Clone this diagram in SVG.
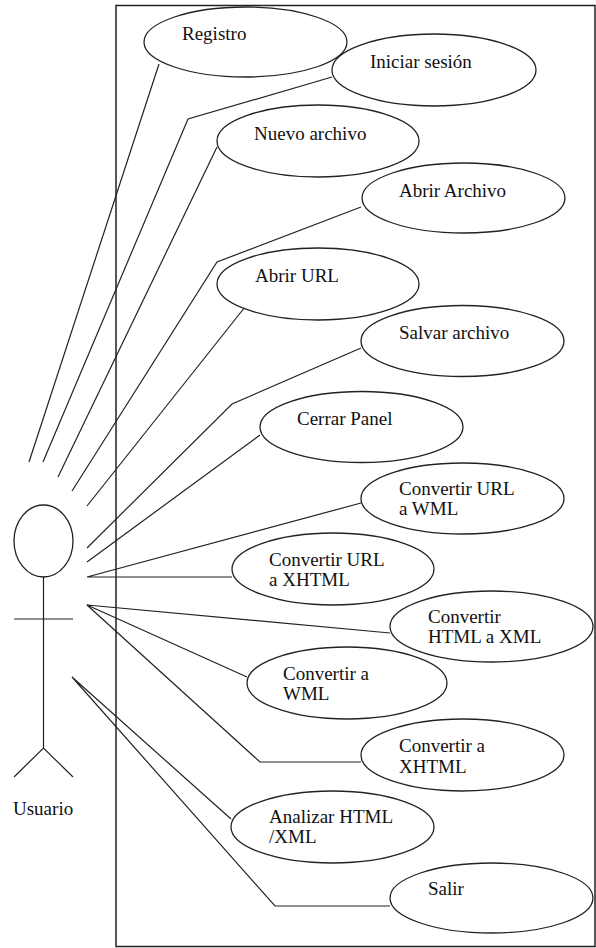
<svg xmlns="http://www.w3.org/2000/svg" width="596" height="948" viewBox="0 0 596 948">
<style>
.uc{fill:#fff;stroke:#222;stroke-width:1.3}
.ln{fill:none;stroke:#222;stroke-width:1.2}
</style>
<rect x="0" y="0" width="596" height="948" fill="#fff"/>
<rect id="system" x="116" y="5.5" width="479" height="941" fill="none" stroke="#222" stroke-width="1.5"/>
<g id="connectors">
<polyline class="ln" points="159,64 29,462"/>
<polyline class="ln" points="332,77 188,119 43,462"/>
<polyline class="ln" points="217,147 58,477"/>
<polyline class="ln" points="361,207 217,262 72,491"/>
<polyline class="ln" points="245,307 87,506"/>
<polyline class="ln" points="361,348 232,404 87,548"/>
<polyline class="ln" points="260,435 87,562"/>
<polyline class="ln" points="361,503 87,577 232,577"/>
<polyline class="ln" points="390,633 87,605 247,677"/>
<polyline class="ln" points="87,605 260,762 361,762"/>
<polyline class="ln" points="231,819 72,677 275,906 390,906"/>
</g>
<g font-family="Liberation Serif, Times New Roman, DejaVu Serif, serif" font-size="19" fill="#111">
<g id="actor">
<ellipse class="uc" cx="43.5" cy="541" rx="29.5" ry="36"/>
<line class="ln" x1="43.5" y1="577" x2="43.5" y2="748"/>
<line class="ln" x1="14" y1="619" x2="73" y2="619"/>
<polyline class="ln" points="14,777 43.5,748 73,777"/>
<text x="13" y="815">Usuario</text>
</g>
<g id="uc1"><ellipse class="uc" cx="245.5" cy="42" rx="101.5" ry="35"/><text x="182" y="40">Registro</text></g>
<g id="uc2"><ellipse class="uc" cx="434" cy="70" rx="102" ry="36"/><text x="370" y="68">Iniciar sesión</text></g>
<g id="uc3"><ellipse class="uc" cx="318" cy="141" rx="101" ry="36"/><text x="254" y="140">Nuevo archivo</text></g>
<g id="uc4"><ellipse class="uc" cx="463.5" cy="198" rx="101.5" ry="35"/><text x="399" y="197">Abrir Archivo</text></g>
<g id="uc5"><ellipse class="uc" cx="318" cy="284" rx="101" ry="36"/><text x="255" y="282">Abrir URL</text></g>
<g id="uc6"><ellipse class="uc" cx="462.5" cy="341" rx="101.5" ry="35.5"/><text x="399" y="339">Salvar archivo</text></g>
<g id="uc7"><ellipse class="uc" cx="361.5" cy="427" rx="101.5" ry="35.5"/><text x="297" y="425">Cerrar Panel</text></g>
<g id="uc8"><ellipse class="uc" cx="462.5" cy="498.5" rx="101.5" ry="35.5"/><text x="399" y="495">Convertir URL</text><text x="399" y="515">a WML</text></g>
<g id="uc9"><ellipse class="uc" cx="333" cy="569" rx="101" ry="36"/><text x="269" y="566">Convertir URL</text><text x="269" y="586">a XHTML</text></g>
<g id="uc10"><ellipse class="uc" cx="491.5" cy="626.5" rx="101.5" ry="35.5"/><text x="428" y="623">Convertir</text><text x="428" y="643">HTML a XML</text></g>
<g id="uc11"><ellipse class="uc" cx="347" cy="683" rx="100" ry="36"/><text x="283" y="680">Convertir a</text><text x="283" y="700">WML</text></g>
<g id="uc12"><ellipse class="uc" cx="462.5" cy="755" rx="101.5" ry="36"/><text x="399" y="752">Convertir a</text><text x="399" y="773">XHTML</text></g>
<g id="uc13"><ellipse class="uc" cx="332.5" cy="827" rx="101.5" ry="36"/><text x="269" y="823">Analizar HTML</text><text x="269" y="843">/XML</text></g>
<g id="uc14"><ellipse class="uc" cx="491.5" cy="898" rx="101.5" ry="35"/><text x="428" y="895">Salir</text></g>
</g>
</svg>
